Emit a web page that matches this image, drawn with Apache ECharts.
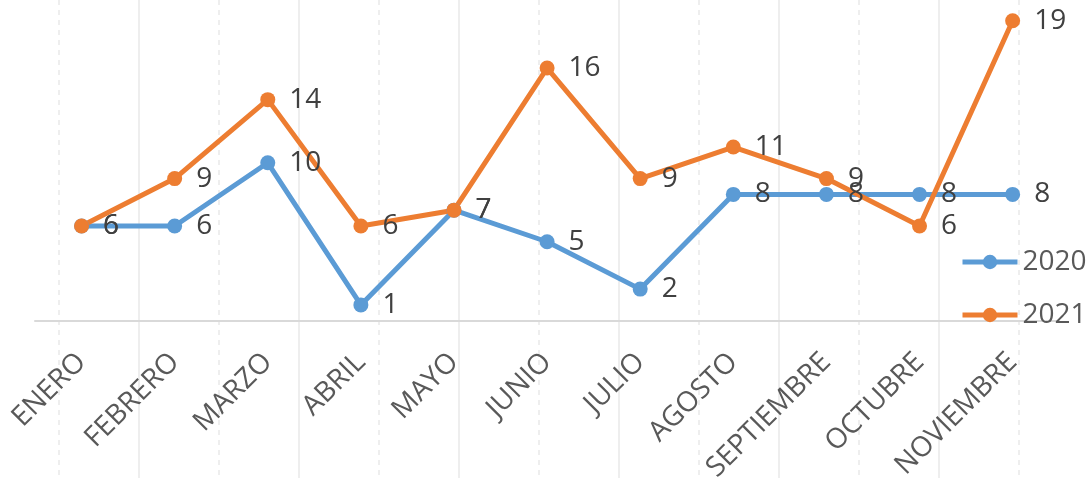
<!DOCTYPE html>
<html>
<head>
<meta charset="utf-8">
<script src="https://cdn.jsdelivr.net/npm/echarts@6/dist/echarts.min.js"></script>
<style>
  html, body { margin: 0; padding: 0; background: #fff; }
  #chart { width: 1087px; height: 478px; }
</style>
</head>
<body>
<div id="chart"></div>
<script>
// datos
var meses = ['ENERO', 'FEBRERO', 'MARZO', 'ABRIL', 'MAYO', 'JUNIO', 'JULIO', 'AGOSTO', 'SEPTIEMBRE', 'OCTUBRE', 'NOVIEMBRE']
var valores2020 = [6, 6, 10, 1, 7, 5, 2, 8, 8, 8, 8]
var valores2021 = [6, 9, 14, 6, 7, 16, 9, 11, 9, 6, 19]

var fuente = 'Open Sans'
var azul = '#5B9BD5'
var naranja = '#ED7D31'

function serie (nombre, datos, color) {
  return {
    name: nombre,
    type: 'line',
    xAxisIndex: 0,
    yAxisIndex: 0,
    data: datos,
    symbol: 'circle',
    symbolSize: 15,
    color: color,
    lineStyle: { width: 5, color: color },
    itemStyle: { color: color },
    label: {
      show: true,
      position: 'right',
      distance: 14,
      fontFamily: fuente,
      fontSize: 28,
      color: '#404040'
    },
    emphasis: { disabled: true },
    animation: false
  }
}

var chart = echarts.init(document.getElementById('chart'))
chart.setOption({
  backgroundColor: '#ffffff',
  animation: false,
  grid: [
    { left: 35, right: 27.8, top: 4.9, bottom: 157.3, outerBoundsMode: 'none', containLabel: false },
    // lineas de fondo (discontinuas y continuas)
    { left: 59, right: -40, top: 0, bottom: 0, outerBoundsMode: 'none', containLabel: false },
    { left: 139, right: -40, top: 0, bottom: 0, outerBoundsMode: 'none', containLabel: false }
  ],
  legend: {
    orient: 'vertical',
    left: 955,
    top: 243,
    itemWidth: 55,
    itemHeight: 18,
    itemGap: 25,
    data: ['2020', '2021'],
    lineStyle: { width: 5 },
    textStyle: { fontFamily: fuente, fontSize: 28, color: '#595959' }
  },
  xAxis: [
    {
      gridIndex: 0,
      type: 'category',
      data: meses,
      boundaryGap: true,
      axisLine: { show: true, lineStyle: { color: '#d9d9d9', width: 2 } },
      axisTick: { show: false },
      splitLine: { show: false },
      axisLabel: {
        rotate: 45,
        interval: 0,
        margin: 37,
        padding: [20, 0, 0, 0],
        fontFamily: fuente,
        fontSize: 28,
        color: '#595959'
      }
    },
    {
      gridIndex: 1,
      type: 'value',
      min: 0,
      max: 13.35,
      interval: 2,
      axisLine: { show: false },
      axisTick: { show: false },
      axisLabel: { show: false },
      splitLine: { show: true, showMaxLine: false, lineStyle: { color: '#eeeeee', width: 2, type: [5, 5] } }
    },
    {
      gridIndex: 2,
      type: 'value',
      min: 0,
      max: 12.35,
      interval: 2,
      axisLine: { show: false },
      axisTick: { show: false },
      axisLabel: { show: false },
      splitLine: { show: true, showMaxLine: false, lineStyle: { color: '#eeeeee', width: 2 } }
    }
  ],
  yAxis: [
    { gridIndex: 0, type: 'value', min: 0, max: 20, show: false },
    { gridIndex: 1, type: 'value', show: false },
    { gridIndex: 2, type: 'value', show: false }
  ],
  series: [
    serie('2020', valores2020, azul),
    serie('2021', valores2021, naranja)
  ]
})
</script>
</body>
</html>
